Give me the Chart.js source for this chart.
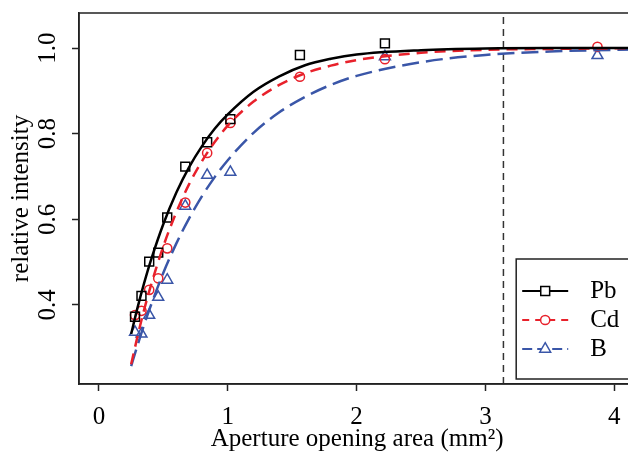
<!DOCTYPE html>
<html>
<head>
<meta charset="utf-8">
<script src="https://cdn.jsdelivr.net/npm/chart.js@4.4.1/dist/chart.umd.min.js"></script>
<style>
    html, body { margin: 0; padding: 0; background: #fff; overflow: hidden; }
    #frame { width: 628px; height: 452px; overflow: hidden; position: relative; }
    #chart { position: absolute; left: 0; top: 0; }
</style>
</head>
<body>
<!-- the original figure is cropped on the right, so the canvas runs past the frame -->
<div id="frame"><canvas id="chart" width="643" height="452"></canvas></div>
<script>
// measured points (aperture opening area in mm^2)
const apertureArea = [0.28, 0.33, 0.39, 0.46, 0.53, 0.67, 0.84, 1.02, 1.56, 2.22, 3.87];
const pbIntensity = [0.372, 0.421, 0.501, 0.522, 0.604, 0.723, 0.780, 0.834, 0.984, 1.011, null];
const cdIntensity = [0.376, 0.386, 0.435, 0.462, 0.532, 0.639, 0.755, 0.825, 0.933, 0.974, 1.003];
const bIntensity = [0.336, 0.332, 0.376, 0.418, 0.458, 0.631, 0.703, 0.710, null, 0.980, 0.983];

// fitted curves
const fitArea = [0.25, 0.3, 0.35, 0.4, 0.5, 0.6, 0.7, 0.8, 0.9, 1.0, 1.2, 1.4, 1.6, 1.8, 2.0, 2.5, 3.0, 3.5, 4.2];
const pbFit = [0.332, 0.394, 0.450, 0.501, 0.589, 0.662, 0.722, 0.771, 0.812, 0.845, 0.898, 0.934, 0.960, 0.975, 0.985, 0.995, 0.999, 1.0, 1.0];
const cdFit = [0.261, 0.327, 0.388, 0.442, 0.537, 0.616, 0.682, 0.736, 0.781, 0.819, 0.875, 0.914, 0.941, 0.959, 0.972, 0.989, 0.996, 0.998, 1.0];
const bFit = [0.257, 0.306, 0.353, 0.396, 0.475, 0.543, 0.602, 0.654, 0.699, 0.738, 0.802, 0.850, 0.886, 0.914, 0.935, 0.967, 0.984, 0.992, 0.997];

const cutoffArea = 3.14;
const xTicks = [0, 1, 2, 3, 4];
const yTicks = [0.4, 0.6, 0.8, 1.0];
const xRange = [-0.155, 4.163];
const yRange = [0.215, 1.082];

const black = '#000000';
const red = '#e8212b';
const blue = '#3a56a8';
const serif = "'Liberation Serif', 'Times New Roman', serif";

Chart.defaults.font.family = serif;
Chart.defaults.font.size = 25;
Chart.defaults.color = '#000';

function pairs(xs, ys) {
    return xs.map((x, i) => ({ x, y: ys[i] })).filter(p => p.y !== null);
}

function curve(ys, color, dash) {
    return {
        data: pairs(fitArea, ys),
        showLine: true,
        borderColor: color,
        borderWidth: 2.5,
        borderDash: dash,
        pointRadius: 0,
        cubicInterpolationMode: 'monotone',
    };
}

function marks(ys, color, style, radius) {
    return {
        data: pairs(apertureArea, ys),
        showLine: false,
        pointStyle: style,
        pointRadius: radius,
        pointBorderColor: color,
        pointBackgroundColor: 'rgba(0,0,0,0)',
        pointBorderWidth: 1.5,
    };
}

// keep the plot box fixed, no extra room for edge labels
function noPadding(s) {
    s.paddingLeft = 0;
    s.paddingRight = 0;
    s.paddingTop = 0;
    s.paddingBottom = 0;
}

const legendItems = [
    { label: 'Pb', color: black, dash: [], style: 'rect', radius: 6.3 },
    { label: 'Cd', color: red, dash: [7, 6], style: 'circle', radius: 4.6 },
    { label: 'B', color: blue, dash: [10, 5], style: 'triangle', radius: 6.3 },
];

const frame = {
    id: 'frame',
    afterDatasetsDraw(chart) {
        const { ctx, chartArea: a } = chart;
        ctx.save();
        ctx.strokeStyle = '#222';
        ctx.lineWidth = 1.5;
        ctx.strokeRect(a.left, a.top, a.right - a.left, a.bottom - a.top);

        // legend box in the lower right corner
        const bx = a.right - 119;
        const by = a.bottom - 125;
        ctx.fillStyle = '#fff';
        ctx.fillRect(bx, by, 200, 120);
        ctx.strokeRect(bx, by, 200, 120);

        legendItems.forEach((item, i) => {
            const y = by + 32 + i * 29;
            ctx.strokeStyle = item.color;
            ctx.lineWidth = 2;
            ctx.setLineDash(item.dash);
            ctx.beginPath();
            ctx.moveTo(bx + 6, y);
            ctx.lineTo(bx + 52, y);
            ctx.stroke();
            ctx.setLineDash([]);
            ctx.lineWidth = 1.5;
            ctx.fillStyle = '#fff';
            Chart.helpers.drawPoint(ctx, {
                pointStyle: item.style,
                radius: item.radius,
                borderWidth: 1.5,
                rotation: 0,
            }, bx + 29, y);
            ctx.fillStyle = '#000';
            ctx.font = '25px ' + serif;
            ctx.textAlign = 'left';
            ctx.textBaseline = 'middle';
            ctx.fillText(item.label, bx + 74, y);
        });
        ctx.restore();
    },
};

new Chart(document.getElementById('chart'), {
    type: 'scatter',
    data: {
        datasets: [
            curve(pbFit, black, []),
            curve(cdFit, red, [11, 7]),
            curve(bFit, blue, [17, 7]),
            marks(pbIntensity, black, 'rect', 6.3),
            marks(cdIntensity, red, 'circle', 4.6),
            marks(bIntensity, blue, 'triangle', 6.3),
            {
                data: [{ x: cutoffArea, y: yRange[0] }, { x: cutoffArea, y: yRange[1] }],
                showLine: true,
                borderColor: '#333',
                borderWidth: 1.5,
                borderDash: [7, 5],
                pointRadius: 0,
            },
        ],
    },
    options: {
        responsive: false,
        animation: false,
        events: [],
        devicePixelRatio: 1,
        layout: { padding: { top: 13, right: 1, bottom: 0, left: 0 } },
        plugins: { legend: { display: false }, tooltip: { enabled: false } },
        scales: {
            x: {
                type: 'linear',
                min: xRange[0],
                max: xRange[1],
                afterBuildTicks: s => { s.ticks = xTicks.map(v => ({ value: v })); },
                afterFit: s => { s.height = 68; noPadding(s); },
                ticks: { padding: 11, maxRotation: 0 },
                grid: { drawOnChartArea: false, drawTicks: true, tickLength: 7, tickWidth: 1.5, tickColor: '#222' },
                border: { color: '#222', width: 1.5 },
                title: {
                    display: true,
                    text: 'Aperture opening area (mm²)',
                    font: { size: 25, lineHeight: 1 },
                    padding: { top: 0, bottom: 0 },
                },
            },
            y: {
                type: 'linear',
                min: yRange[0],
                max: yRange[1],
                afterBuildTicks: s => { s.ticks = yTicks.map(v => ({ value: v })); },
                afterFit: s => { s.width = 79; noPadding(s); },
                ticks: {
                    padding: 8,
                    minRotation: 90,
                    maxRotation: 90,
                    crossAlign: 'center',
                    callback: v => v.toFixed(1),
                },
                grid: { drawOnChartArea: false, drawTicks: true, tickLength: 7, tickWidth: 1.5, tickColor: '#222' },
                border: { color: '#222', width: 1.5 },
                title: {
                    display: true,
                    text: 'relative intensity',
                    font: { size: 25, lineHeight: 1 },
                    padding: { top: 9, bottom: 0 },
                },
            },
        },
    },
    plugins: [frame],
});
</script>
</body>
</html>
